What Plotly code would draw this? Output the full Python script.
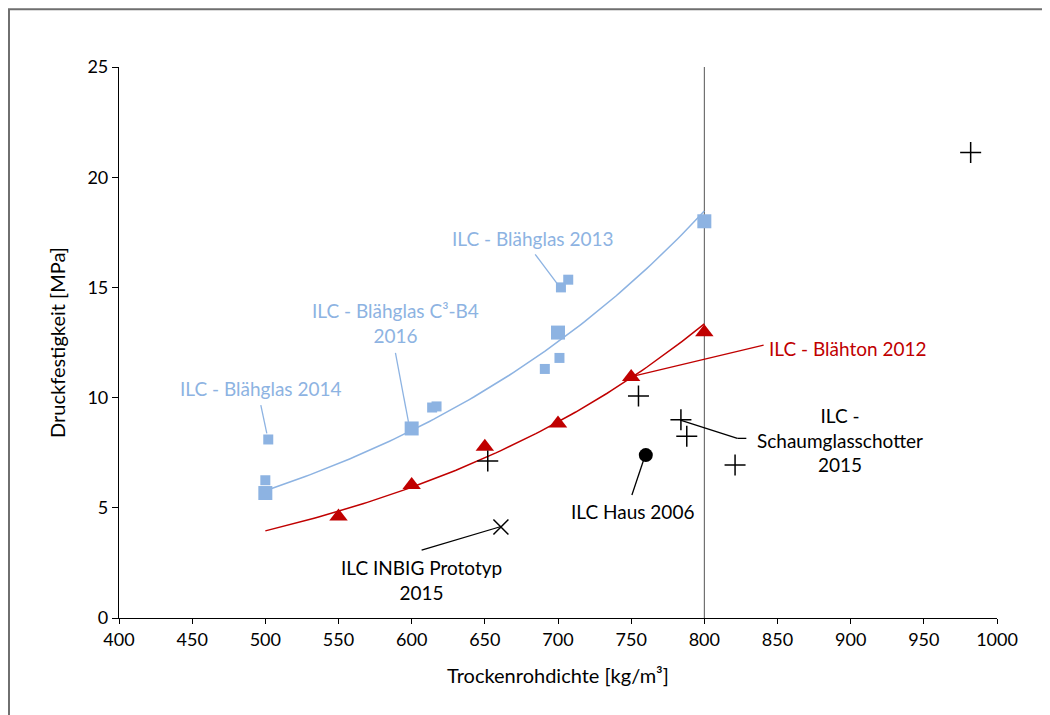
import numpy as np
import plotly.graph_objects as go

# ---- data ----
c3b4_x = [500, 600, 700, 800]            # ILC - Blähglas C³-B4 2016 (large squares)
c3b4_y = [5.67, 8.6, 12.95, 18.0]
glas_x = [500, 502, 614, 617, 691, 701, 702, 707]   # other Blähglas points (small squares)
glas_y = [6.25, 8.1, 9.55, 9.6, 11.3, 11.8, 15.0, 15.35]
ton_x = [550, 600, 650, 700, 750, 800]   # ILC - Blähton 2012
ton_y = [4.6, 6.03, 7.77, 8.83, 10.94, 12.97]
schaum_x = [652, 755, 784, 788, 821, 982]  # ILC - Schaumglasschotter 2015
schaum_y = [7.12, 10.07, 9.0, 8.25, 6.94, 21.12]
haus_x = [760]
haus_y = [7.39]
inbig_x = [661]
inbig_y = [4.13]

BLUE = "#8DB3E2"
RED = "#C00000"
FONT = "Lato"

def expfit(x, y, x0, x1):
    b, a = np.polyfit(np.array(x, float), np.log(np.array(y, float)), 1)
    xs = np.linspace(x0, x1, 100)
    return xs, np.exp(a + b * xs)

fig = go.Figure()

bx, by = expfit(c3b4_x, c3b4_y, 500, 800)
rx, ry = expfit(ton_x, ton_y, 500, 800)
fig.add_trace(go.Scatter(x=bx, y=by, mode="lines", line=dict(color=BLUE, width=1.5), hoverinfo="skip"))
fig.add_trace(go.Scatter(x=rx, y=ry, mode="lines", line=dict(color=RED, width=1.5), hoverinfo="skip"))

fig.add_trace(go.Scatter(x=glas_x, y=glas_y, mode="markers",
                         marker=dict(symbol="square", size=10, color=BLUE)))
fig.add_trace(go.Scatter(x=c3b4_x, y=c3b4_y, mode="markers",
                         marker=dict(symbol="square", size=14, color=BLUE)))
fig.add_trace(go.Scatter(x=ton_x, y=ton_y, mode="markers",
                         marker=dict(symbol="triangle-up", size=16, color=RED)))
fig.add_trace(go.Scatter(x=schaum_x, y=schaum_y, mode="markers",
                         marker=dict(symbol="cross-thin", size=15, line=dict(color="black", width=1.5))))
fig.add_trace(go.Scatter(x=haus_x, y=haus_y, mode="markers",
                         marker=dict(symbol="circle", size=14, color="black")))
fig.add_trace(go.Scatter(x=inbig_x, y=inbig_y, mode="markers",
                         marker=dict(symbol="x-thin", size=15, line=dict(color="black", width=1.5))))

# vertical reference line at 800 kg/m³
fig.add_shape(type="line", x0=800, x1=800, y0=0, y1=25, xref="x", yref="y",
              line=dict(color="#555555", width=1), layer="below")

# frame around figure
fig.add_shape(type="rect", xref="paper", yref="paper", x0=-0.1253, x1=1.2, y0=-0.3, y1=1.105,
              line=dict(color="#6f6f6f", width=2))

# labels and leader lines (leaders given as polyline points)
labels = [
    ("ILC - Blähglas 2013", 683, 17.23, BLUE, [(684.4, 16.5), (699.3, 15.18)]),
    ("ILC - Blähglas C³-B4<br>2016", 588.7, 13.38, BLUE, [(588.9, 12.03), (597.8, 8.9)]),
    ("ILC - Blähglas 2014", 497.1, 10.43, BLUE, [(496.9, 9.66), (501, 8.38)]),
    ("ILC - Blähton 2012", 898.5, 12.24, RED, [(840.5, 12.38), (749.4, 10.94)]),
    ("ILC -<br>Schaumglasschotter<br>2015", 893, 8.07, "black",
     [(828.7, 8.15), (822.6, 8.15), (783.6, 8.98)]),
    ("ILC Haus 2006", 750.8, 4.81, "black", [(750.5, 5.58), (758.5, 7.17)]),
    ("ILC INBIG Prototyp<br>2015", 606.8, 1.72, "black", [(606.8, 3.08), (660.5, 4.14)]),
]
for text, x, y, col, pts in labels:
    fig.add_annotation(x=x, y=y, text=text, showarrow=False, xref="x", yref="y",
                       font=dict(family=FONT, size=19, color=col), align="center")
    for (lx0, ly0), (lx1, ly1) in zip(pts[:-1], pts[1:]):
        fig.add_shape(type="line", x0=lx0, y0=ly0, x1=lx1, y1=ly1, xref="x", yref="y",
                      line=dict(color=col, width=1.3))

fig.update_layout(
    width=1050, height=715,
    margin=dict(l=111, r=61, t=59, b=105),
    paper_bgcolor="white", plot_bgcolor="white",
    showlegend=False,
    font=dict(family=FONT, size=17, color="black"),
    xaxis=dict(range=[400, 1000], dtick=50, tick0=400, showgrid=False, zeroline=False,
               showline=True, linecolor="black", linewidth=1.2, ticks="outside", ticklen=5,
               tickcolor="black", tickfont=dict(size=18),
               title=dict(text="Trockenrohdichte [kg/m³]", standoff=20)),
    yaxis=dict(range=[0, 25], dtick=5, showgrid=False, zeroline=False,
               showline=True, linecolor="black", linewidth=1.2, ticks="outside", ticklen=6,
               tickcolor="black", tickfont=dict(size=18),
               title=dict(text="Druckfestigkeit [MPa]", standoff=16)),
)

fig.write_html("out.html")
